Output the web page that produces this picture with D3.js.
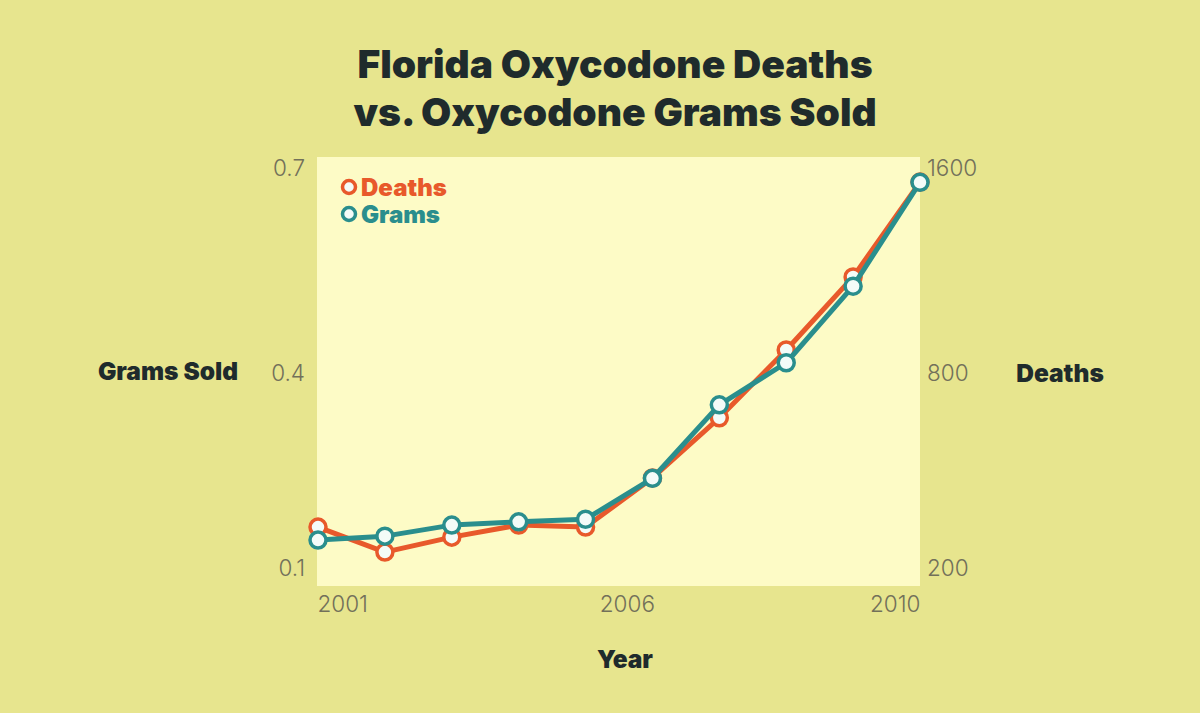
<!DOCTYPE html>
<html>
<head>
<meta charset="utf-8">
<script src="https://cdn.jsdelivr.net/npm/d3@7"></script>
<style>
  body { margin: 0; background: #e6e48c; }
  svg { display: block; }
</style>
</head>
<body>
<div id="chart"></div>
<script>
// data
const years = [2001, 2002, 2003, 2004, 2005, 2006, 2007, 2008, 2009, 2010];
const deaths = [326, 249, 295, 332, 326, 477, 662, 890, 1175, 1545];
const grams = [0.143, 0.149, 0.166, 0.171, 0.175, 0.238, 0.351, 0.415, 0.527, 0.679];
const gramTicks = [0.1, 0.4, 0.7];
const deathTicks = [200, 800, 1600];
const yearTicks = [2001, 2006, 2010];

const W = 1200, H = 713;
const margin = {top: 157, right: 280, bottom: 127, left: 317};
const width = W - margin.left - margin.right;
const height = H - margin.top - margin.bottom;

const orange = "#e8592b", teal = "#2a8e8d", ink = "#1f2b2c", tickCol = "#72705a";

const svg = d3.select("#chart").append("svg")
  .attr("width", W).attr("height", H);

svg.append("rect").attr("width", W).attr("height", H).attr("fill", "#e7e58e");

const chart = svg.append("g")
  .attr("transform", "translate(" + margin.left + "," + margin.top + ")");

chart.append("rect")
  .attr("width", width).attr("height", height)
  .attr("fill", "#fdfbc6");

// scales (tick labels in the source are not evenly spaced, so piecewise)
const x = d3.scaleLinear().domain([2001, 2010]).range([1, width]);
const yLeft = d3.scaleLinear().domain(gramTicks).range([411, 216, 11]);
const yRight = d3.scaleLinear().domain(deathTicks).range([411, 216, 11]);

function tickStyle(sel) {
  sel.attr("font-family", "Inter, sans-serif").attr("font-size", 22.5)
    .attr("font-weight", 300).attr("fill", tickCol);
}

// axes, lines removed, labels only
const leftAxis = d3.axisLeft(yLeft).tickValues(gramTicks).tickSize(0).tickPadding(12)
  .tickFormat(d3.format(".1f"));
chart.append("g").call(leftAxis)
  .call(g => g.select(".domain").remove())
  .selectAll("text").call(tickStyle);

const rightAxis = d3.axisRight(yRight).tickValues(deathTicks).tickSize(0).tickPadding(7)
  .tickFormat(d3.format("d"));
chart.append("g").attr("transform", "translate(" + width + ",0)").call(rightAxis)
  .call(g => g.select(".domain").remove())
  .selectAll("text").call(tickStyle);

const bottomAxis = d3.axisBottom(x).tickValues(yearTicks).tickSize(0).tickPadding(10)
  .tickFormat(d3.format("d"));
chart.append("g").attr("transform", "translate(0," + height + ")").call(bottomAxis)
  .call(g => g.select(".domain").remove())
  .selectAll("text").call(tickStyle)
    .attr("text-anchor", (d, i) => i == 0 ? "start" : "end")
    .attr("dx", (d, i) => i == 0 ? -1 : (i == 1 ? 2 : 0));

// lines
const deathLine = d3.line().x((d, i) => x(years[i])).y(d => yRight(d));
const gramLine = d3.line().x((d, i) => x(years[i])).y(d => yLeft(d));

function addSeries(vals, line, yscale, color) {
  chart.append("path").datum(vals)
    .attr("d", line).attr("fill", "none")
    .attr("stroke", color).attr("stroke-width", 5)
    .attr("stroke-linejoin", "round");
  chart.append("g").selectAll("circle")
    .data(vals).join("circle")
    .attr("cx", (d, i) => x(years[i]))
    .attr("cy", d => yscale(d))
    .attr("r", 8)
    .attr("fill", "#f4fbf8")
    .attr("stroke", color).attr("stroke-width", 3.5);
}
addSeries(deaths, deathLine, yRight, orange);
addSeries(grams, gramLine, yLeft, teal);

// legend
const legend = chart.append("g").attr("transform", "translate(32,30)");
[["Deaths", orange], ["Grams", teal]].forEach((d, i) => {
  const row = legend.append("g").attr("transform", "translate(0," + i * 27 + ")");
  row.append("circle").attr("r", 6.5).attr("fill", "#f4fbf8")
    .attr("stroke", d[1]).attr("stroke-width", 3.5);
  row.append("text").attr("x", 12).attr("dy", "0.36em")
    .attr("font-family", "Inter, sans-serif").attr("font-size", 24)
    .attr("font-weight", 900).attr("fill", d[1]).text(d[0]);
});

// titles
const title = svg.append("text")
  .attr("text-anchor", "middle")
  .attr("font-family", "Inter, sans-serif").attr("font-weight", 900)
  .attr("font-size", 39).attr("fill", ink);
title.append("tspan").attr("x", 615).attr("y", 78).text("Florida Oxycodone Deaths");
title.append("tspan").attr("x", 615).attr("y", 126).text("vs. Oxycodone Grams Sold");

function axisTitle(xPos, yPos, label) {
  svg.append("text").attr("x", xPos).attr("y", yPos).attr("text-anchor", "middle")
    .attr("font-family", "Inter, sans-serif").attr("font-weight", 900)
    .attr("font-size", 24.5).attr("fill", ink).text(label);
}
axisTitle(168, 380, "Grams Sold");
axisTitle(1060, 382, "Deaths");
axisTitle(625, 668, "Year");
</script>
</body>
</html>
